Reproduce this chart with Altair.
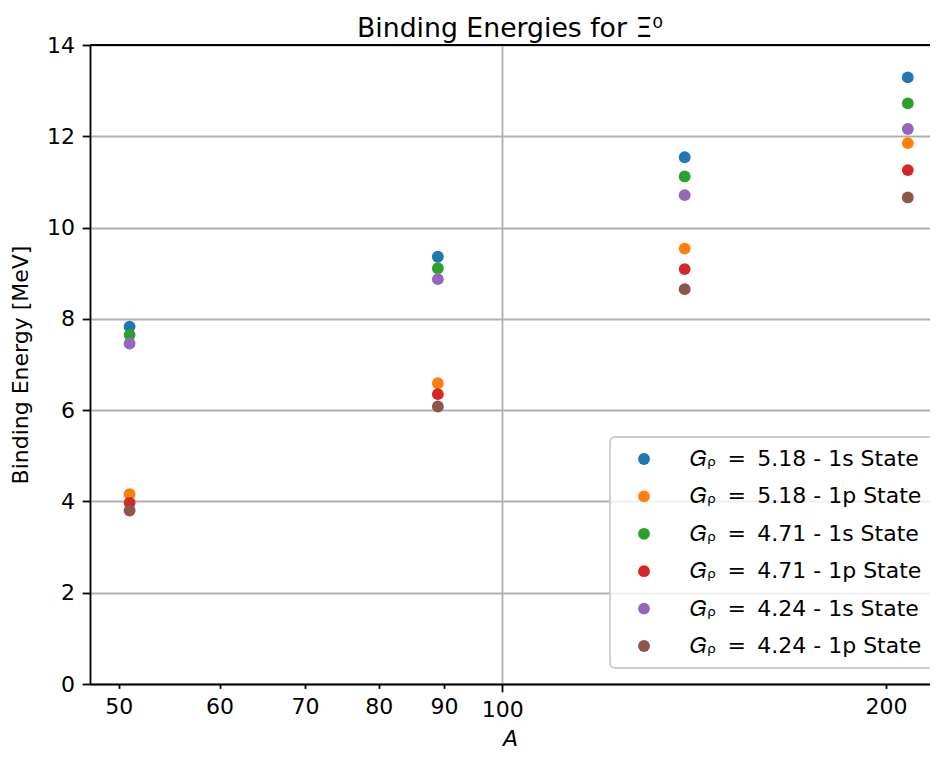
import altair as alt
import pandas as pd

# ---- data ----
A_values = [51, 89, 139, 208]
series_names = [
    "𝐺ᵨ \u2009= \u20095.18 - 1s State",
    "𝐺ᵨ \u2009= \u20095.18 - 1p State",
    "𝐺ᵨ \u2009= \u20094.71 - 1s State",
    "𝐺ᵨ \u2009= \u20094.71 - 1p State",
    "𝐺ᵨ \u2009= \u20094.24 - 1s State",
    "𝐺ᵨ \u2009= \u20094.24 - 1p State",
]
be_518_1s = [7.83, 9.36, 11.54, 13.29]
be_518_1p = [4.16, 6.59, 9.54, 11.85]
be_471_1s = [7.65, 9.11, 11.12, 12.72]
be_471_1p = [3.97, 6.35, 9.09, 11.26]
be_424_1s = [7.46, 8.87, 10.71, 12.16]
be_424_1p = [3.80, 6.08, 8.65, 10.66]
series_colors = ["#1f77b4", "#ff7f0e", "#2ca02c", "#d62728", "#9467bd", "#8c564b"]
x_ticks = [50, 60, 70, 80, 90, 100, 200]
y_ticks = [0, 2, 4, 6, 8, 10, 12, 14]

all_values = [be_518_1s, be_518_1p, be_471_1s, be_471_1p, be_424_1s, be_424_1p]
rows = []
for order, (name, vals) in enumerate(zip(series_names, all_values)):
    for a, v in zip(A_values, vals):
        rows.append({"A": a, "BE": v, "series": name, "order": order})
df = pd.DataFrame(rows)

FONT = "DejaVu Sans"
W, H = 840, 639

points = alt.Chart(df).mark_point(filled=True, size=140, opacity=1, strokeWidth=0).encode(
    x=alt.X(
        "A:Q",
        scale=alt.Scale(type="log", domain=[47.48, 216.5], nice=False, zero=False),
        axis=alt.Axis(
            title="A",
            titleFontStyle="italic",
            titleFontWeight="normal",
            titleFontSize=22,
            titlePadding=8,
            titleFont=FONT,
            titleColor="black",
            values=x_ticks,
            format="d",
            labelFontSize=22,
            labelFont=FONT,
            labelColor="black",
            labelFlush=False,
            labelOverlap=False,
            tickSize={"condition": {"test": "datum.value == 100", "value": 7.8}, "value": 4.4},
            tickWidth=1.8,
            tickColor="black",
            labelPadding=7.8,
            domainColor="black",
            domainWidth=1.8,
            grid=True,
            gridColor="#b0b0b0",
            gridWidth=1.8,
            gridOpacity={"condition": {"test": "datum.value == 100", "value": 1}, "value": 0},
        ),
    ),
    y=alt.Y(
        "BE:Q",
        scale=alt.Scale(domain=[0, 14], nice=False),
        axis=alt.Axis(
            title="Binding Energy [MeV]",
            titleFontWeight="normal",
            titleFontSize=22,
            titleFont=FONT,
            titleColor="black",
            titlePadding=14,
            values=y_ticks,
            labelFontSize=22,
            labelFont=FONT,
            labelColor="black",
            labelPadding=7.8,
            labelFlush=False,
            tickSize=7.8,
            tickWidth=1.8,
            tickColor="black",
            domainColor="black",
            domainWidth=1.8,
            grid=True,
            gridColor="#b0b0b0",
            gridWidth=1.8,
        ),
    ),
    color=alt.Color(
        "series:N",
        scale=alt.Scale(domain=series_names, range=series_colors),
        legend=alt.Legend(
            title=None,
            orient="none",
            legendX=520,
            legendY=392,
            labelFontSize=22,
            labelFont=FONT,
            labelColor="black",
            symbolType="circle",
            symbolSize=140,
            symbolStrokeWidth=0,
            symbolOffset=12,
            labelOffset=35,
            rowPadding=15.4,
            padding=11,
            strokeColor="#cccccc",
            cornerRadius=5,
            fillColor="rgba(255,255,255,0.8)",
            labelLimit=400,
        ),
    ),
    order=alt.Order("order:Q"),
)

top_spine = alt.Chart(pd.DataFrame({"v": [0]})).mark_rule(color="black", strokeWidth=1.8).encode(
    x=alt.value(0), x2=alt.value(W), y=alt.value(0)
)

chart = alt.layer(points, top_spine).properties(
    width=W,
    height=H,
    title=alt.TitleParams(
        "Binding Energies for Ξ⁰",
        fontSize=26.7,
        fontWeight="normal",
        font=FONT,
        color="black",
        baseline="alphabetic",
        offset=1,
        dy=31,
    ),
    autosize=alt.AutoSizeParams(type="none"),
    padding={"left": 82, "top": 37, "right": 0, "bottom": 66},
).configure_view(stroke=None).configure(background="white").configure_legend(strokeWidth=1.8)

chart.save("out.html", embed_options={"renderer": "svg", "actions": False})
